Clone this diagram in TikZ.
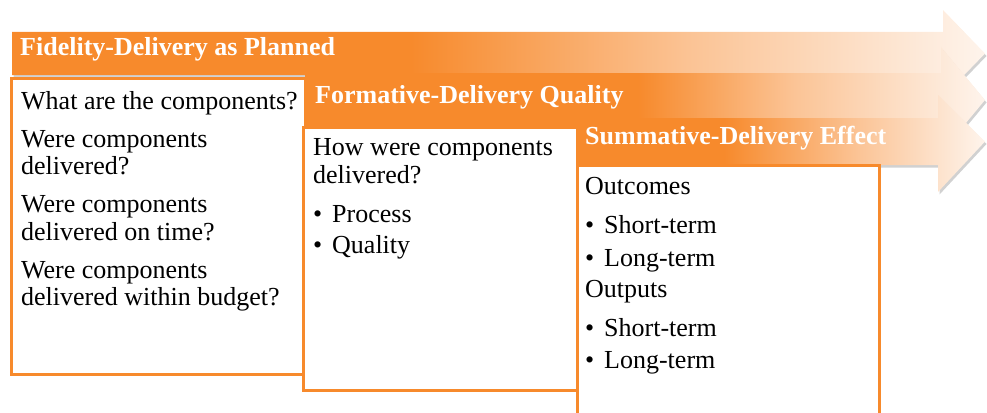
\documentclass[tikz,border=0pt]{standalone}
\usepackage{fontspec}
\setmainfont{Liberation Serif}
\usetikzlibrary{shadows}
\definecolor{org}{RGB}{247,138,44}
\definecolor{orgmid}{RGB}{251,196,150}
\definecolor{orglight}{RGB}{254,244,236}
\pgfdeclarehorizontalshading{shadeA}{100bp}{color(0bp)=(org); color(25bp)=(org); color(45.5bp)=(org); color(60bp)=(orgmid); color(75bp)=(orglight); color(100bp)=(orglight)}
\pgfdeclarehorizontalshading{shadeB}{100bp}{color(0bp)=(org); color(25bp)=(org); color(49.5bp)=(org); color(61bp)=(orgmid); color(75bp)=(orglight); color(100bp)=(orglight)}
\pgfdeclarehorizontalshading{shadeC}{100bp}{color(0bp)=(org); color(25bp)=(org); color(43bp)=(org); color(59.5bp)=(orgmid); color(75bp)=(orglight); color(100bp)=(orglight)}
\newcommand\mybul{\makebox[19pt][l]{\textbullet}}
\tikzset{
  arrowband/.style={shading=#1, drop shadow={shadow xshift=1.5pt, shadow yshift=-2.5pt, opacity=0.3, fill=black!60}},
  hdr/.style={font=\bfseries\fontsize{26}{30}\selectfont, text=white, anchor=base west, inner sep=0pt},
  body/.style={font=\fontsize{26}{30}\selectfont, text=black, anchor=base west, inner sep=0pt},
  boxframe/.style={draw=org, line width=3pt, fill=white},
}
\begin{document}
\begin{tikzpicture}[x=1pt,y=-1pt]
\useasboundingbox (0,0) rectangle (987,412);
% arrow 1
\path[arrowband=shadeA] (12,32) -- (943,32) -- (943,10) -- (985,53.5) -- (943,97) -- (943,75) -- (12,75) -- cycle;
\node[hdr] (h1) at (20,56) {Fidelity-Delivery as Planned};
% box 1
\path[boxframe] (11,78) rectangle (305,374);
\node[body] (a1) at (21,109) {What are the components?};
\node[body] (a2) at (21,147) {Were components};
\node[body] (a3) at (21,174) {delivered?};
\node[body] (a4) at (21,212) {Were components};
\node[body] (a5) at (21,240) {delivered on time?};
\node[body] (a6) at (21,278) {Were components};
\node[body] (a7) at (21,305) {delivered within budget?};
% arrow 2
\path[arrowband=shadeB] (305,73) -- (941,73) -- (941,47) -- (985,100) -- (941,153) -- (941,127) -- (305,127) -- cycle;
\node[hdr] (h2) at (315,103) {Formative-Delivery Quality};
% box 2
\path[boxframe] (303,127) rectangle (577,390);
\node[body] (b1) at (313,155) {How were components};
\node[body] (b2) at (313,183) {delivered?};
\node[body] (b3) at (313,222) {\mybul Process};
\node[body] (b4) at (313,253) {\mybul Quality};
% arrow 3
\path[arrowband=shadeC] (577,118) -- (938,118) -- (938,95) -- (985,141.5) -- (938,192) -- (938,165) -- (577,165) -- cycle;
\node[hdr] (h3) at (585,144) {Summative-Delivery Effect};
% box 3
\fill[white] (577,165) rectangle (879,425);
\draw[org, line width=3pt] (577,425) -- (577,165) -- (879,165) -- (879,425);
\node[body] (c1) at (585,194) {Outcomes};
\node[body] (c2) at (585,233) {\mybul Short-term};
\node[body] (c3) at (585,266) {\mybul Long-term};
\node[body] (c4) at (585,297) {Outputs};
\node[body] (c5) at (585,336) {\mybul Short-term};
\node[body] (c6) at (585,368) {\mybul Long-term};
\end{tikzpicture}
\end{document}
